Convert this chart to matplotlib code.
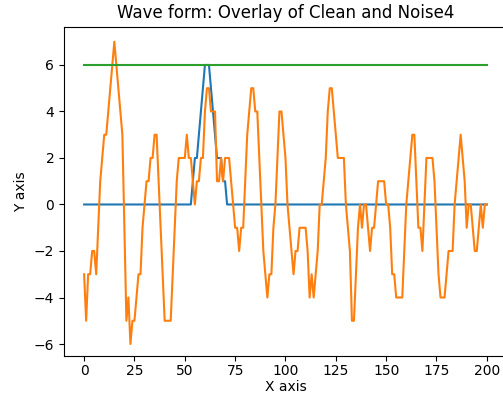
import numpy as np
import matplotlib.pyplot as plt

# Clean waveform (trapezoid pulse) and noisy version, sampled at x = 0..200
x = np.arange(0, 201)

clean = np.zeros(201)
clean[54:72] = [1, 2, 2, 3, 4, 5, 6, 6, 6, 5, 4, 3, 2, 2, 2, 1, 1, 0]

noise4 = [
    -3, -5, -3, -3, -2, -2, -3, -1, 1, 2,      # 0-9
    3, 3, 4, 5, 6, 7, 6, 5, 4, 3,              # 10-19
    -1, -5, -4, -6, -5, -5, -4, -3, -3, -1,    # 20-29
    0, 1, 1, 2, 2, 3, 3, 1, -1, -3,            # 30-39
    -5, -5, -5, -5, -3, -1, 1, 2, 2, 2,        # 40-49
    2, 3, 2, 2, 1, 0, 1, 1, 2, 2,              # 50-59
    4, 5, 5, 4, 4, 4, 1, 1, 2, 1,              # 60-69
    2, 2, 2, 1, 0, -1, -1, -2, -1, -1,         # 70-79
    1, 3, 4, 5, 5, 4, 4, 2, 0, -2,             # 80-89
    -3, -4, -3, -3, -1, 0, 2, 4, 4, 3,         # 90-99
    2, 0, -1, -2, -3, -2, -2, -1, -1, -1,      # 100-109
    -1, -2, -4, -3, -4, -3, -2, 0, 0, 1,       # 110-119
    2, 4, 5, 5, 4, 3, 2, 2, 2, 2,              # 120-129
    0, -1, -2, -5, -5, -3, -1, 0, -1, 0,       # 130-139
    0, -1, -2, -1, -1, 0, 1, 1, 1, 1,          # 140-149
    0, 0, -1, -3, -3, -4, -4, -4, -4, -2,      # 150-159
    0, 1, 2, 3, 3, 1, -1, -1, -2, 0,           # 160-169
    2, 2, 2, 2, 1, -1, -3, -4, -4, -4,         # 170-179
    -3, -2, -2, -2, 0, 1, 2, 3, 2, 1,          # 180-189
    -1, 0, 0, -1, -2, -2, -1, 0, -1, 0,        # 190-199
    0,                                         # 200
]

threshold = 6

fig = plt.figure(figsize=(5.03, 3.95), dpi=100)
ax = fig.add_axes([0.1272, 0.0987, 0.8807, 0.834])
ax.plot(x, clean)
ax.plot(x, noise4)
ax.plot(x, np.full(len(x), threshold))
ax.set_xlabel('X axis', labelpad=2)
ax.set_ylabel('Y axis')
ax.set_title('Wave form: Overlay of Clean and Noise4')
ax.set_xticks([0, 25, 50, 75, 100, 125, 150, 175, 200])
ax.set_yticks([-6, -4, -2, 0, 2, 4, 6])
ax.set_xlim(-10, 210)
ax.set_ylim(-6.516, 7.65)
ax.tick_params(axis='x', pad=2)

fig.savefig('out.png', dpi=100)
